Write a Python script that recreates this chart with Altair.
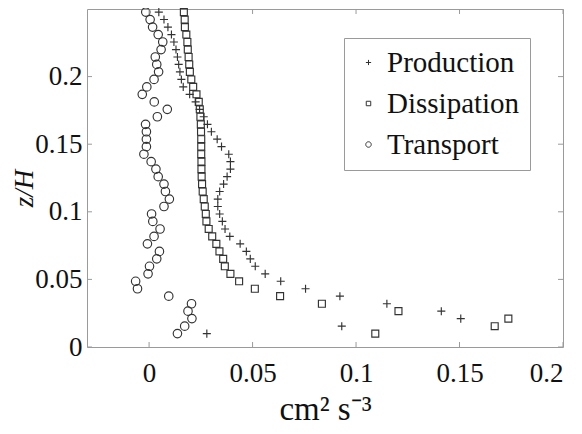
import altair as alt
import pandas as pd

# z/H levels (shared by all three profiles)
z_levels = [0.0099, 0.0154, 0.0210, 0.0265, 0.0320, 0.0376, 0.0431, 0.0486, 0.0541, 0.0597,
            0.0652, 0.0707, 0.0763, 0.0818, 0.0873, 0.0929, 0.0984, 0.1039, 0.1094, 0.1150,
            0.1205, 0.1260, 0.1316, 0.1371, 0.1426, 0.1482, 0.1537, 0.1592, 0.1647, 0.1703,
            0.1758, 0.1813, 0.1869, 0.1924, 0.1979, 0.2035, 0.2090, 0.2145, 0.2200, 0.2256,
            0.2311, 0.2366, 0.2422, 0.2477]

production = [0.0279, 0.0931, 0.1506, 0.1412, 0.1149, 0.0922, 0.0756, 0.0636, 0.0561, 0.0513,
              0.0489, 0.0470, 0.0440, 0.0390, 0.0367, 0.0354, 0.0341, 0.0332, 0.0332, 0.0341,
              0.0360, 0.0377, 0.0393, 0.0393, 0.0385, 0.0350, 0.0329, 0.0301, 0.0282, 0.0264,
              0.0244, 0.0225, 0.0196, 0.0165, 0.0156, 0.0149, 0.0143, 0.0137, 0.0130, 0.0120,
              0.0108, 0.0091, 0.0072, 0.0047]

dissipation = [0.1093, 0.1670, 0.1736, 0.1205, 0.0835, 0.0633, 0.0511, 0.0435, 0.0393, 0.0366,
               0.0358, 0.0340, 0.0325, 0.0305, 0.0288, 0.0277, 0.0274, 0.0269, 0.0264, 0.0259,
               0.0256, 0.0254, 0.0253, 0.0253, 0.0252, 0.0252, 0.0252, 0.0251, 0.0250, 0.0248,
               0.0245, 0.0240, 0.0229, 0.0213, 0.0204, 0.0197, 0.0194, 0.0191, 0.0187, 0.0185,
               0.0180, 0.0173, 0.0172, 0.0168]

transport = [0.0137, 0.0172, 0.0207, 0.0188, 0.0205, 0.0095, -0.0056, -0.0065, -0.0005, 0.0002,
             0.0037, 0.0050, -0.0008, 0.0024, 0.0053, 0.0018, 0.0012, 0.0072, 0.0098, 0.0079,
             0.0072, 0.0044, 0.0033, 0.0010, -0.0025, -0.0013, -0.0013, -0.0013, -0.0017, 0.0040,
             0.0088, 0.0025, -0.0033, -0.0011, 0.0024, 0.0046, 0.0037, 0.0030, 0.0058, 0.0066,
             0.0044, 0.0017, 0.0005, -0.0016]

series_names = ["Production", "Dissipation", "Transport"]
x_ticks = [0, 0.05, 0.1, 0.15, 0.2]
y_ticks = [0, 0.05, 0.1, 0.15, 0.2]
x_domain = [-0.03, 0.2]
y_domain = [0, 0.25]

rows = []
for name, vals in zip(series_names, [production, dissipation, transport]):
    for z, v in zip(z_levels, vals):
        rows.append({"series": name, "value": v, "z": z})
df = pd.DataFrame(rows)

W, H = 476, 338
FONT = "Liberation Serif"
INK = "#333333"
FRAME = "#9a9a9a"

xs = alt.Scale(domain=x_domain, nice=False, zero=False)
ys = alt.Scale(domain=y_domain, nice=False, zero=False)

plus_path = "M-0.95,0L0.95,0M0,-0.95L0,0.95"
square_path = "M-0.82,-0.82L0.82,-0.82L0.82,0.82L-0.82,0.82Z"
circle_path = "M1,0A1,1,0,1,1,-1,0A1,1,0,1,1,1,0Z"

points = alt.Chart(df).mark_point(filled=False, strokeWidth=1.15, opacity=1, size=72).encode(
    x=alt.X("value:Q", scale=xs,
            axis=alt.Axis(values=x_ticks, format="~g", title="cm² s⁻³",
                          titleX=238, titleY=72, titleBaseline="alphabetic",
                          titleFontSize=33, titleFont=FONT, titleFontWeight="normal",
                          titleColor="#111111", labelPadding=13)),
    y=alt.Y("z:Q", scale=ys,
            axis=alt.Axis(values=y_ticks, format="~g", title="z/H",
                          titleFontStyle="italic", titleX=-63, titleY=179,
                          titleAngle=-90, titleBaseline="middle", titleAlign="center",
                          titleFontSize=27, titleFont=FONT, titleFontWeight="normal",
                          titleColor="#111111", labelPadding=5)),
    shape=alt.Shape("series:N",
                    scale=alt.Scale(domain=series_names,
                                    range=[plus_path, square_path, circle_path]),
                    legend=alt.Legend(title=None, orient="none", legendX=257, legendY=29,
                                      padding=10, rowPadding=11, labelOffset=4,
                                      symbolSize=30, symbolStrokeWidth=1,
                                      symbolStrokeColor=INK, symbolFillColor="white",
                                      labelFont=FONT, labelFontSize=29, labelColor="#111111",
                                      strokeColor=FRAME, fillColor="white")),
    color=alt.value(INK),
)

xt = pd.DataFrame({"t": x_ticks})
yt = pd.DataFrame({"t": y_ticks})
tick_len = 5
bottom_ticks = alt.Chart(xt).mark_rule(color=FRAME, strokeWidth=1).encode(
    x=alt.X("t:Q", scale=xs), y=alt.value(H), y2=alt.value(H - tick_len))
top_ticks = alt.Chart(xt).mark_rule(color=FRAME, strokeWidth=1).encode(
    x=alt.X("t:Q", scale=xs), y=alt.value(0), y2=alt.value(tick_len))
left_ticks = alt.Chart(yt).mark_rule(color=FRAME, strokeWidth=1).encode(
    y=alt.Y("t:Q", scale=ys), x=alt.value(0), x2=alt.value(tick_len))
right_ticks = alt.Chart(yt).mark_rule(color=FRAME, strokeWidth=1).encode(
    y=alt.Y("t:Q", scale=ys), x=alt.value(W), x2=alt.value(W - tick_len))

chart = alt.layer(points, bottom_ticks, top_ticks, left_ticks, right_ticks).properties(
    width=W, height=H,
    background="white",
    autosize=alt.AutoSizeParams(type="none"),
    padding={"left": 79, "top": 1, "right": 10, "bottom": 79},
).configure_view(
    stroke=FRAME, strokeWidth=1
).configure_axis(
    domain=False, ticks=False, grid=False,
    labelFont=FONT, labelFontSize=27, labelColor="#111111",
)

chart.save("out.html", embed_options={"renderer": "svg", "actions": False})
